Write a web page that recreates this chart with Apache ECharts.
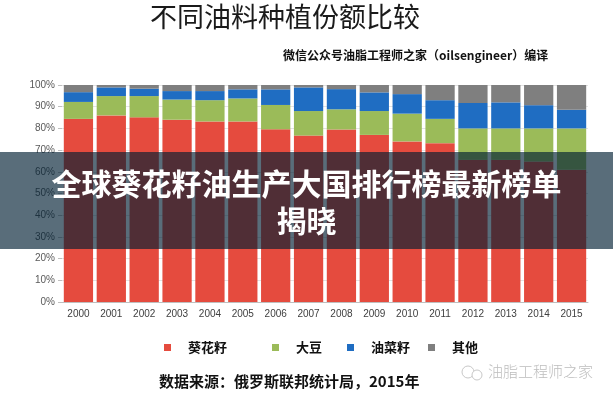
<!DOCTYPE html>
<html>
<head>
<meta charset="utf-8">
<script src="https://cdn.jsdelivr.net/npm/echarts@6/dist/echarts.min.js"></script>
<style>
html,body{margin:0;padding:0;background:#fff;}
#c{width:613px;height:400px;}
</style>
</head>
<body>
<div id="c"></div>
<script>
var years = ['2000','2001','2002','2003','2004','2005','2006','2007','2008','2009','2010','2011','2012','2013','2014','2015'];
var sunflower = [84.4, 86.0, 85.1, 84.0, 83.2, 83.2, 79.6, 76.7, 79.5, 77.0, 74.0, 73.2, 65.5, 65.5, 64.8, 61.0];
var soybean   = [7.8, 8.9, 9.8, 9.3, 9.8, 10.6, 11.2, 11.3, 9.3, 11.0, 12.8, 11.2, 14.5, 14.5, 15.2, 19.0];
var rapeseed  = [4.5, 4.0, 3.4, 3.9, 4.2, 4.2, 7.2, 10.9, 9.3, 8.6, 9.0, 8.6, 11.7, 12.0, 10.7, 8.6];
var other     = [3.3, 1.1, 1.7, 2.8, 2.8, 2.0, 2.0, 1.1, 1.9, 3.4, 4.2, 7.0, 8.3, 8.0, 9.3, 11.4];
var seriesNames = ['葵花籽', '大豆', '油菜籽', '其他'];
var colors = ['#e54b3e', '#9bbb59', '#1f6dc2', '#7f7f7f'];
var legendLeft = [159, 267, 342, 423];

var cjk = '"Noto Sans CJK SC", sans-serif';
var chart = echarts.init(document.getElementById('c'));
var dataSets = [sunflower, soybean, rapeseed, other];
var series = dataSets.map(function (d, i) {
  return {
    name: seriesNames[i],
    type: 'bar',
    stack: 'total',
    barCategoryGap: '11%',
    itemStyle: { color: colors[i] },
    data: d
  };
});
var legends = seriesNames.map(function (n, i) {
  return {
    data: [n],
    left: legendLeft[i], top: 336,
    icon: 'rect', itemWidth: 7, itemHeight: 7,
    textStyle: { fontFamily: cjk, fontWeight: 'bold', fontSize: 13, color: '#111', padding: [0, 0, 0, 12] }
  };
});

chart.setOption({
  animation: false,
  backgroundColor: '#fff',
  grid: { left: 62, right: 25, top: 85, bottom: 98 },
  xAxis: {
    type: 'category',
    data: years,
    axisLine: { lineStyle: { color: '#bfbfbf' } },
    axisTick: { show: false },
    axisLabel: { color: '#404040', fontSize: 10, fontFamily: 'Liberation Sans, sans-serif', margin: 7 }
  },
  yAxis: {
    type: 'value',
    min: 0, max: 100, interval: 10,
    axisLine: { show: false },
    axisTick: { show: true, length: 4, lineStyle: { color: '#bfbfbf' } },
    splitLine: { lineStyle: { color: '#e3e3e3' } },
    axisLabel: { formatter: '{value}%', color: '#595959', fontSize: 10, fontFamily: 'Liberation Sans, sans-serif', margin: 7 }
  },
  legend: legends,
  series: series,
  graphic: [
    { type: 'text', left: 150, top: 3, style: { text: '不同油料种植份额比较', fontFamily: cjk, fontSize: 27, fill: '#1a1a1a' } },
    { type: 'text', left: 283, top: 49, style: { text: '微信公众号油脂工程师之家（oilsengineer）编译', fontFamily: cjk, fontWeight: 'bold', fontSize: 12, fill: '#111' } },
    { type: 'text', left: 159, top: 374, style: { text: '数据来源：俄罗斯联邦统计局，2015年', fontFamily: cjk, fontWeight: 'bold', fontSize: 15, fill: '#111' } },
    { type: 'circle', shape: { cx: 468, cy: 372, r: 6 }, style: { fill: 'none', stroke: '#c8c8c8', lineWidth: 1 } },
    { type: 'circle', shape: { cx: 477, cy: 375, r: 5 }, style: { fill: '#fff', stroke: '#c8c8c8', lineWidth: 1 } },
    { type: 'text', left: 488, top: 364, style: { text: '油脂工程师之家', fontFamily: cjk, fontWeight: 300, fontSize: 15, fill: '#bdbdbd' } },
    { type: 'rect', left: 0, top: 152, shape: { width: 613, height: 97 }, style: { fill: 'rgba(0,30,50,0.65)' }, z: 100 },
    { type: 'text', left: 'center', top: 165, z: 101, style: { text: '全球葵花籽油生产大国排行榜最新榜单\n揭晓', textAlign: 'center', lineHeight: 37, fontFamily: cjk, fontWeight: 'bold', fontSize: 30, fill: '#fff' } }
  ]
});
</script>
</body>
</html>
